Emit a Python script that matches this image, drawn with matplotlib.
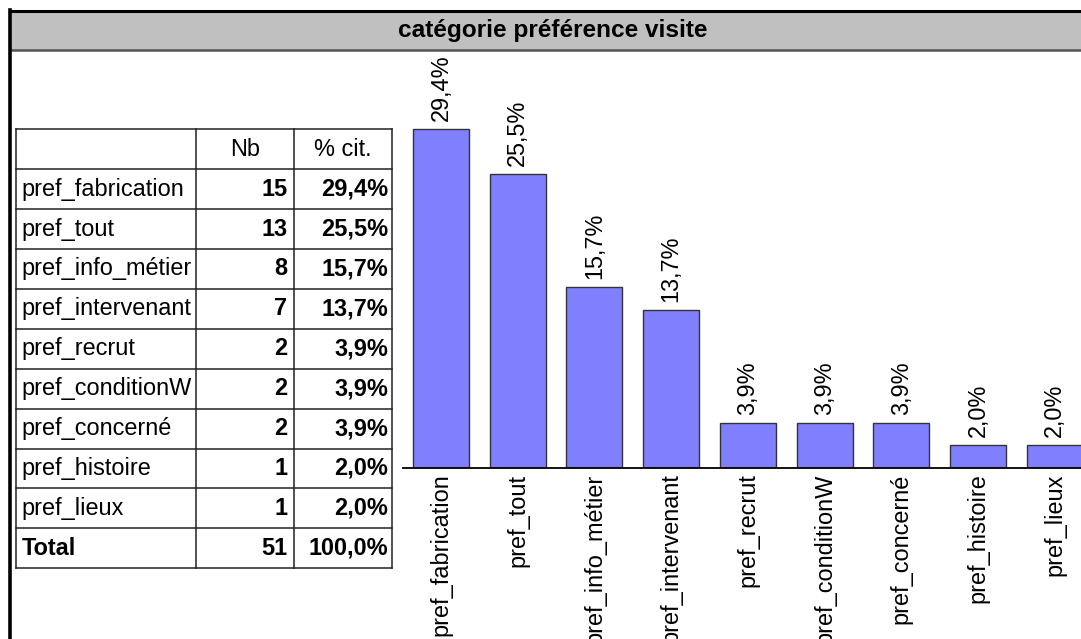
import matplotlib
matplotlib.use('Agg')
import matplotlib.pyplot as plt
from matplotlib.patches import Rectangle

plt.rcParams['font.family'] = ['Liberation Sans', 'DejaVu Sans']

# data
categories = ['pref_fabrication', 'pref_tout', 'pref_info_métier', 'pref_intervenant',
              'pref_recrut', 'pref_conditionW', 'pref_concerné', 'pref_histoire', 'pref_lieux']
counts = [15, 13, 8, 7, 2, 2, 2, 1, 1]
pct = [29.4, 25.5, 15.7, 13.7, 3.9, 3.9, 3.9, 2.0, 2.0]
title = 'catégorie préférence visite'
col_headers = ['', 'Nb', '% cit.']


def fmt_pct(v):
    return ('%.1f' % v).replace('.', ',') + '%'


W, H = 1081, 639
fig = plt.figure(figsize=(W / 100, H / 100), dpi=100)

# overlay in pixel coords (y down) for frame, title bar and table
bg = fig.add_axes([0, 0, 1, 1])
bg.set_xlim(0, W)
bg.set_ylim(H, 0)
bg.axis('off')

bg.add_patch(Rectangle((10, 11), W, 38.5, facecolor='#c0c0c0', edgecolor='none'))
bg.plot([10, W], [11, 11], color='black', lw=2.2)
bg.plot([10, W], [49.5, 49.5], color='#555555', lw=1.8)
bg.plot([10, 10], [10, H], color='black', lw=2.6)
bg.text(553, 31, title, ha='center', va='center', fontsize=17.6, fontweight='bold')

# table
fs = 16.9
col_x = [15.5, 196, 294.3, 391.5]
row_h = 39.9
top = 129.3
nrows = len(categories) + 2
for k in range(nrows + 1):
    y = top + k * row_h
    bg.plot([col_x[0], col_x[-1]], [y, y], color='#222222', lw=1.1)
for x in col_x:
    bg.plot([x, x], [top, top + nrows * row_h], color='#222222', lw=1.1)

yc = top + row_h / 2
for j, h in enumerate(col_headers):
    if h:
        bg.text((col_x[j] + col_x[j + 1]) / 2, yc, h, ha='center', va='center', fontsize=fs)

rows = list(zip(categories, counts, pct)) + [('Total', sum(counts), sum(pct))]
for i, (name, n, p) in enumerate(rows):
    yc = top + (i + 1.5) * row_h
    bold = 'bold' if name == 'Total' else 'normal'
    bg.text(col_x[0] + 6, yc, name, ha='left', va='center', fontsize=fs, fontweight=bold)
    bg.text(col_x[2] - 7, yc, str(n), ha='right', va='center', fontsize=fs, fontweight='bold')
    bg.text(col_x[3] - 3.5, yc, fmt_pct(p), ha='right', va='center', fontsize=fs, fontweight='bold')

# bar chart
pitch = 76.7
ax_left, ax_base, ax_top = 402.7, 468, 52
px_per_unit = 11.53
ax = fig.add_axes([ax_left / W, 1 - ax_base / H, len(categories) * pitch / W, (ax_base - ax_top) / H])
x = list(range(len(categories)))
ax.bar(x, pct, width=56 / pitch, color='#8080ff', edgecolor='#333333', linewidth=1.0)
ax.set_xlim(-0.5, len(categories) - 0.5)
ax.set_ylim(0, (ax_base - ax_top) / px_per_unit)
for s in ['top', 'right', 'left']:
    ax.spines[s].set_visible(False)
ax.spines['bottom'].set_linewidth(1.3)
ax.set_yticks([])
ax.set_xticks(x)
ax.set_xticklabels(categories, rotation=90, fontsize=fs)
ax.tick_params(axis='x', length=0, pad=4)
ax.patch.set_alpha(0)

off = 7.6 / px_per_unit
for xi, v in zip(x, pct):
    ax.text(xi, v + off, fmt_pct(v), rotation=90, ha='center', va='bottom', fontsize=fs)

fig.savefig('out.png', dpi=100)
